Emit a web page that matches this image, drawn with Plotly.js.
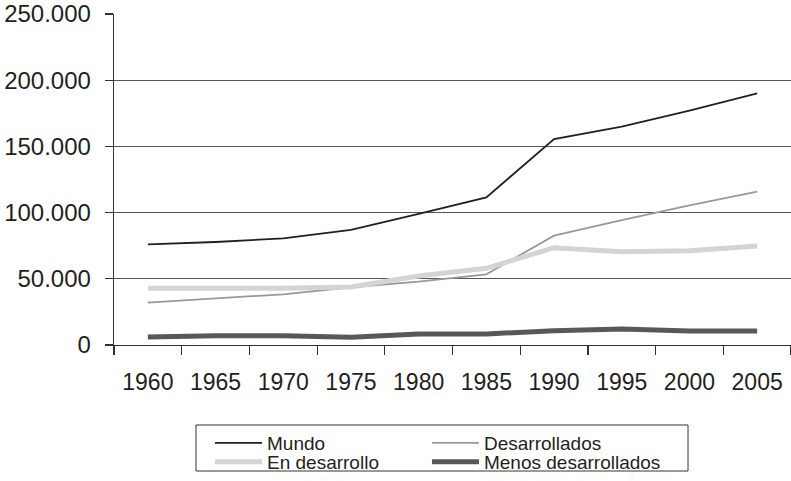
<!DOCTYPE html>
<html>
<head>
<meta charset="utf-8">
<script src="https://cdn.plot.ly/plotly-3.0.1.min.js"></script>
<style>html,body{margin:0;padding:0;background:#fff;}#chart{width:791px;height:481px;}</style>
</head>
<body>
<div id="chart"></div>
<script>
var years = ['1960','1965','1970','1975','1980','1985','1990','1995','2000','2005'];
var mundo = [76000, 77800, 80600, 86900, 99000, 111500, 155600, 164900, 177000, 190100];
var desarrollados = [32000, 35000, 38300, 43600, 47800, 53400, 82600, 94400, 105500, 115800];
var enDesarrollo = [42800, 42800, 42800, 43800, 52100, 57900, 73500, 70500, 71200, 74800];
var menosDesarrollados = [6000, 7000, 7000, 5800, 8300, 8300, 10800, 12100, 10600, 10600];
var yTicks = [0, 50000, 100000, 150000, 200000, 250000];

var traces = [
  {x: years, y: mundo, name: 'Mundo', type: 'scatter', mode: 'lines', legend: 'legend', line: {color: '#231f20', width: 1.8}},
  {x: years, y: desarrollados, name: 'Desarrollados', type: 'scatter', mode: 'lines', legend: 'legend2', line: {color: '#999999', width: 1.8}},
  {x: years, y: enDesarrollo, name: 'En desarrollo', type: 'scatter', mode: 'lines', legend: 'legend3', line: {color: '#d4d4d4', width: 5}},
  {x: years, y: menosDesarrollados, name: 'Menos desarrollados', type: 'scatter', mode: 'lines', legend: 'legend4', line: {color: '#58585a', width: 5}}
];

var font = {family: '"Liberation Sans", Arial, sans-serif', color: '#231f20'};
var legendFont = {family: font.family, size: 19, color: '#231f20'};
function legendCell(x, y) {
  return {
    orientation: 'v', x: x, xanchor: 'left', y: y, yanchor: 'middle',
    bgcolor: 'rgba(0,0,0,0)', borderwidth: 0,
    font: legendFont, traceorder: 'normal', itemwidth: 47
  };
}

var layout = {
  width: 791, height: 481,
  margin: {l: 114, r: 0, t: 14, b: 136, autoexpand: false},
  paper_bgcolor: '#ffffff', plot_bgcolor: '#ffffff',
  separators: ',.',
  font: font,
  showlegend: true,
  xaxis: {
    type: 'category', range: [-0.5, 9.5], tickson: 'boundaries',
    ticks: 'outside', ticklen: 9, tickcolor: '#333', tickwidth: 1.2,
    showline: true, linecolor: '#333', linewidth: 1.3,
    showgrid: false, zeroline: false,
    tickfont: {family: font.family, size: 23, color: '#231f20'},
    ticklabelstandoff: 16, fixedrange: true
  },
  yaxis: {
    range: [0, 250000], tickmode: 'array', tickvals: yTicks, tickformat: ',d',
    ticks: 'outside', ticklen: 8, tickcolor: '#333', tickwidth: 1.2,
    showline: true, linecolor: '#333', linewidth: 1.3,
    showgrid: true, gridcolor: '#555', gridwidth: 1,
    zeroline: false,
    tickfont: {family: font.family, size: 24, color: '#231f20'},
    ticklabelstandoff: 9, fixedrange: true
  },
  legend: legendCell(0.1418, -0.2961),
  legend2: legendCell(0.4623, -0.2961),
  legend3: legendCell(0.1418, -0.3535),
  legend4: legendCell(0.4623, -0.3535),
  shapes: [{
    type: 'rect', xref: 'paper', yref: 'paper',
    x0: 0.1211, x1: 0.8479, y0: -0.2417, y1: -0.3807,
    line: {color: '#333', width: 1}, fillcolor: 'rgba(0,0,0,0)', layer: 'below'
  }]
};

Plotly.newPlot('chart', traces, layout, {displayModeBar: false, staticPlot: true});
</script>
</body>
</html>
